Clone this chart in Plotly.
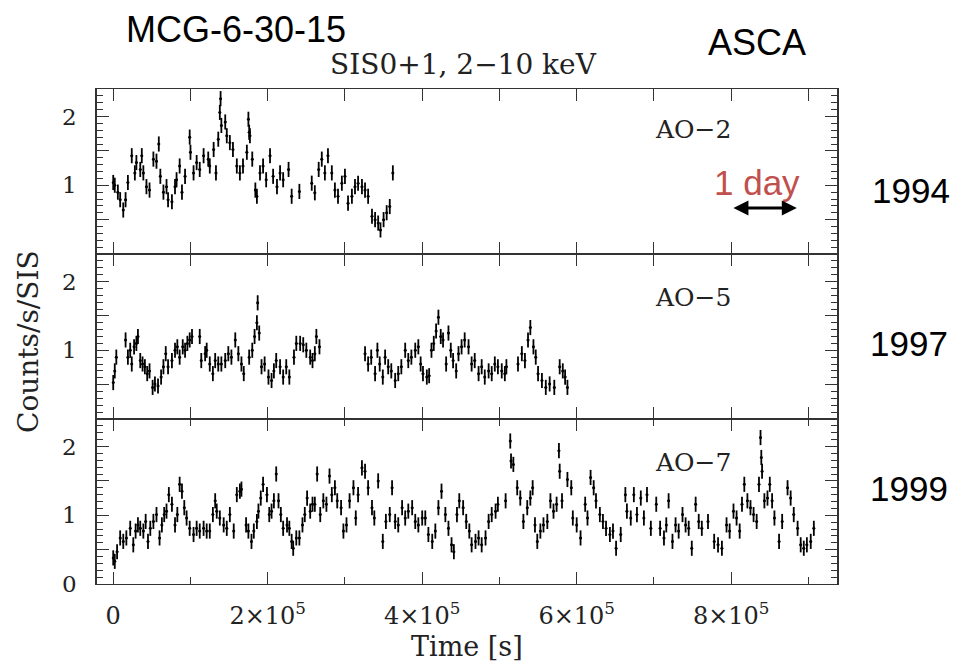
import plotly.graph_objects as go
from plotly.subplots import make_subplots

# MCG-6-30-15, ASCA SIS0+1 2-10 keV light curves; times in ks, rates in counts/s/SIS
t_ao2 = [0, 2, 6, 9, 13, 16, 19, 24, 28, 30,
         35, 37, 39, 43, 47, 52, 56, 59, 61, 65,
         69, 71, 76, 80, 82, 86, 89, 93, 99, 100,
         104, 108, 112, 117, 123, 125, 130, 133, 136, 138,
         139, 140, 145, 147, 151, 155, 160, 164, 168, 173,
         175, 176, 177, 180, 184, 186, 190, 194, 198, 203,
         207, 212, 216, 220, 227, 231, 241, 257, 261, 266,
         270, 274, 278, 283, 287, 291, 296, 300, 304, 309,
         313, 317, 322, 326, 330, 335, 339, 343, 346, 350,
         354, 358, 362]
rate_ao2 = [1.04, 1.00, 0.90, 0.79, 0.64, 0.79, 1.04, 1.43, 1.18, 1.33,
            1.23, 1.43, 1.18, 0.98, 0.93, 1.38, 1.35, 1.60, 1.13, 0.90,
            0.98, 0.79, 0.76, 0.98, 1.08, 1.28, 0.90, 1.13, 1.70, 1.48,
            1.18, 1.33, 1.23, 1.43, 1.38, 1.28, 1.52, 1.18, 1.67, 2.06,
            2.26, 1.87, 1.92, 1.72, 1.62, 1.52, 1.28, 1.18, 1.28, 1.48,
            1.96, 1.77, 1.72, 1.38, 0.93, 0.84, 1.18, 1.28, 1.08, 1.43,
            1.13, 0.98, 1.18, 1.08, 1.23, 0.84, 0.91, 1.03, 0.89, 1.23,
            1.38, 1.18, 1.43, 1.18, 0.93, 0.84, 1.03, 1.13, 0.74, 0.84,
            0.98, 1.03, 0.98, 0.93, 0.84, 0.55, 0.50, 0.45, 0.35, 0.50,
            0.60, 0.69, 1.18]

t_ao5 = [0, 2, 4, 16, 19, 22, 24, 27, 30, 32,
         35, 38, 41, 44, 47, 51, 54, 58, 62, 65,
         68, 71, 76, 80, 83, 86, 90, 93, 96, 99,
         102, 112, 114, 119, 121, 125, 129, 132, 136, 140,
         145, 149, 153, 158, 162, 166, 169, 176, 180, 183,
         186, 187, 189, 192, 196, 201, 205, 208, 211, 216,
         220, 224, 228, 234, 237, 242, 246, 250, 255, 258,
         261, 263, 267,
         326, 330, 334, 339, 342, 345, 349, 352, 356, 360,
         365, 369, 373, 378, 382, 386, 391, 395, 398, 401,
         406, 409, 412, 415, 418, 421, 424, 427, 431, 434,
         437, 440, 444, 447, 451, 455, 460, 464, 468, 473,
         477, 481, 486, 490, 494, 498, 503, 507, 509, 524,
         529, 533, 537, 540, 544, 547, 550, 555, 560, 565,
         571, 578, 582, 585, 588]
rate_ao5 = [0.53, 0.70, 0.90, 1.15, 0.90, 1.00, 0.80, 1.05, 1.10, 1.20,
            0.85, 0.80, 0.76, 0.66, 0.70, 0.46, 0.51, 0.48, 0.61, 0.76,
            0.95, 0.76, 0.85, 1.00, 1.05, 0.90, 1.05, 1.00, 1.10, 1.15,
            1.20, 1.20, 0.85, 0.95, 1.00, 0.80, 0.66, 0.85, 0.80, 0.80,
            0.85, 0.95, 0.90, 1.15, 0.95, 0.80, 0.66, 0.90, 1.00, 1.20,
            1.40, 1.69, 1.25, 0.76, 0.80, 0.61, 0.56, 0.70, 0.85, 0.76,
            0.61, 0.76, 0.61, 0.90, 1.10, 1.10, 1.08, 1.00, 0.90, 0.85,
            0.95, 1.20, 1.05,
            0.95, 0.80, 0.90, 0.66, 1.00, 0.80, 0.61, 0.90, 0.76, 0.70,
            0.56, 0.66, 0.76, 1.00, 0.85, 0.90, 1.00, 1.05, 0.80, 0.66,
            0.61, 0.63, 1.00, 1.10, 1.28, 1.48, 1.20, 1.15, 0.80, 1.25,
            1.00, 0.85, 0.70, 0.95, 1.05, 1.15, 1.05, 0.80, 0.85, 0.66,
            0.76, 0.61, 0.70, 0.66, 0.80, 0.76, 0.70, 0.66, 0.76, 0.80,
            0.95, 0.85, 1.15, 1.33, 1.05, 0.90, 0.66, 0.56, 0.46, 0.51,
            0.46, 0.76, 0.70, 0.61, 0.46]

t_ao7 = [0, 2, 5, 9, 13, 17, 22, 26, 29, 32,
         35, 39, 42, 45, 48, 52, 56, 60, 63, 66,
         69, 72, 76, 80, 83, 86, 89, 92, 95, 99,
         104, 108, 112, 117, 121, 125, 129, 132, 134, 138,
         143, 147, 151, 156, 160, 164, 166, 172, 175, 179,
         182, 186, 188, 191, 194, 199, 202, 205, 208, 211,
         214, 217, 220, 225, 228, 231, 233, 237, 241, 245,
         248, 251, 255, 258, 261, 264, 268, 272, 276, 280,
         283, 287, 290, 295, 298, 302, 306, 311, 314, 317,
         322, 326, 330, 335, 338, 343, 349, 353, 358, 361,
         365, 369, 374, 378, 382, 387, 391, 395, 400, 404,
         408, 413, 417, 421, 425, 430, 434, 438, 441, 445,
         448, 453, 457, 461, 464, 469, 473, 477, 482, 486,
         490, 495, 498,
         508, 514, 515, 518, 523, 527, 531, 536, 540, 543,
         546, 549, 553, 557, 562, 566, 570, 574, 577, 578,
         581, 588, 593, 595, 600, 605, 611, 614, 618, 622,
         625, 630, 634, 638, 643, 647, 651, 657, 663, 665,
         670, 674, 678, 683, 687, 691, 696, 703, 708, 713,
         716, 719, 724, 728, 732, 737, 741, 745, 749, 754,
         758, 762, 770, 778, 783, 788, 794, 798, 803, 807,
         811, 814, 817, 821, 825, 829, 833, 836, 838, 839,
         840, 843, 847, 850, 853, 856, 862, 866, 873, 877,
         881, 886, 890, 894, 898, 903, 907]
rate_ao7 = [0.38, 0.33, 0.47, 0.67, 0.62, 0.67, 0.81, 0.57, 0.77, 0.86,
            0.81, 0.77, 0.91, 0.62, 0.81, 0.91, 1.01, 0.67, 0.86, 1.01,
            1.06, 1.30, 1.16, 0.86, 1.01, 1.45, 1.35, 1.11, 0.96, 0.81,
            0.72, 0.81, 0.77, 0.81, 0.77, 0.77, 1.01, 1.21, 1.06, 0.96,
            0.86, 0.81, 1.01, 0.77, 1.30, 1.35, 1.38, 0.86, 0.77, 0.62,
            0.77, 0.91, 1.06, 1.25, 1.45, 1.30, 1.01, 1.06, 1.21, 1.60,
            1.21, 1.01, 0.81, 0.86, 0.81, 0.62, 0.52, 0.67, 0.67, 0.86,
            1.01, 1.25, 1.06, 1.16, 1.16, 1.60, 1.01, 1.21, 1.16, 1.57,
            1.30, 1.40, 1.21, 1.11, 0.77, 0.86, 1.21, 1.40, 0.96, 1.30,
            1.69, 1.64, 1.40, 1.11, 0.96, 1.50, 0.62, 0.91, 1.01, 1.40,
            0.91, 0.86, 1.11, 0.96, 1.06, 1.11, 0.91, 0.86, 0.96, 0.96,
            0.72, 0.62, 0.77, 1.11, 1.35, 1.01, 0.81, 0.57, 0.47, 1.01,
            1.21, 1.11, 0.91, 0.77, 0.57, 0.62, 0.67, 0.57, 0.67, 0.91,
            1.01, 1.06, 1.16,
            1.21, 2.08, 1.79, 1.74, 1.40, 1.25, 0.91, 1.11, 1.25, 1.40,
            0.86, 0.62, 0.77, 0.86, 0.91, 1.21, 1.06, 1.16, 1.94, 1.64,
            1.21, 1.52, 1.40, 0.96, 0.86, 0.67, 1.16, 0.96, 1.55, 1.40,
            1.21, 1.01, 0.91, 0.81, 0.72, 0.77, 0.52, 0.72, 1.30, 1.06,
            0.96, 1.30, 1.01, 1.25, 0.96, 1.30, 0.81, 1.16, 0.81, 0.67,
            0.86, 1.21, 0.62, 0.86, 0.77, 1.01, 0.86, 0.81, 0.52, 1.16,
            0.91, 0.81, 0.91, 0.62, 0.57, 0.52, 0.86, 0.77, 1.06, 0.96,
            0.77, 1.16, 1.45, 1.21, 1.11, 1.01, 0.91, 1.45, 2.13, 1.84,
            1.64, 1.21, 1.25, 1.45, 1.21, 0.96, 0.62, 0.91, 1.40, 1.25,
            1.01, 0.81, 0.57, 0.52, 0.57, 0.62, 0.81]

rate_err = 0.11      # typical 1-sigma error, counts/s/SIS
bin_half = 1.5       # half bin width, ks

panels = [("AO\u22122", "1994", t_ao2, rate_ao2),
          ("AO\u22125", "1997", t_ao5, rate_ao5),
          ("AO\u22127", "1999", t_ao7, rate_ao7)]

for _, _, t, r in panels:
    assert len(t) == len(r)

SERIF = "DejaVu Serif"
SANS = "Liberation Sans"
INK = "#222222"
AXIS = "#333333"

fig = make_subplots(rows=3, cols=1, shared_xaxes=True, vertical_spacing=0)

for i, (name, year, t, r) in enumerate(panels, start=1):
    fig.add_trace(go.Scatter(
        x=[v * 1000 for v in t], y=r, mode="markers",
        marker=dict(size=3, color="black"),
        error_y=dict(type="constant", value=rate_err, thickness=1.8, width=0, color="black"),
        error_x=dict(type="constant", value=bin_half * 1000, thickness=1, width=0, color="black"),
        showlegend=False, hoverinfo="skip"), row=i, col=1)

    last = i == 3
    fig.update_xaxes(
        row=i, col=1, range=[-21000, 937000],
        showline=True, linecolor=AXIS, linewidth=1, mirror="ticks",
        ticks="inside", tickcolor=AXIS, tickwidth=1,
        ticklen=12, dtick=200000 if last else 100000, tick0=0,
        minor=dict(dtick=100000, ticklen=7, tickcolor=AXIS, ticks="inside") if last else None,
        showgrid=False, zeroline=False,
        showticklabels=last, ticklabelstandoff=10,
        tickvals=[0, 2e5, 4e5, 6e5, 8e5] if last else None,
        ticktext=["0", "2\u00d710<sup>5</sup>", "4\u00d710<sup>5</sup>",
                  "6\u00d710<sup>5</sup>", "8\u00d710<sup>5</sup>"] if last else None,
        tickfont=dict(family=SERIF, size=24, color=INK),
    )
    fig.update_yaxes(
        row=i, col=1, range=[0, 2.4],
        showline=True, linecolor=AXIS, linewidth=1.5, mirror="ticks",
        ticks="inside", tickcolor=AXIS, tickwidth=1, ticklen=12,
        tickvals=[0, 0.5, 1, 1.5, 2],
        ticktext=["0" if last else "", "", "1", "", "2"],
        minor=dict(dtick=0.1, ticklen=6, tickcolor=AXIS, ticks="inside"),
        showgrid=False, zeroline=False, ticklabelstandoff=14,
        tickfont=dict(family=SERIF, size=23, color=INK),
    )


# frame sits at page x 97..837, y 89..584 (page has an 8 px body margin)
def paper_x(px):
    return (px - 97) / 740


def paper_y(py):
    return (584 - py) / 495


notes = [
    ("MCG-6-30-15", 236, 30, SANS, 36, "black", 0),
    ("ASCA", 757, 42, SANS, 36, "black", 0),
    ("SIS0+1, 2\u221210 keV", 463, 65, SERIF, 28, INK, 0),
    ("AO\u22122", 693, 130, SERIF, 25, INK, 0),
    ("AO\u22125", 693, 297, SERIF, 25, INK, 0),
    ("AO\u22127", 693, 462, SERIF, 25, INK, 0),
    ("1 day", 757, 182, SANS, 35, "#c0504d", 0),
    ("1994", 911, 190, SANS, 35, "black", 0),
    ("1997", 909, 343, SANS, 35, "black", 0),
    ("1999", 909, 488, SANS, 35, "black", 0),
    ("Time [s]", 467, 646, SERIF, 27, INK, 0),
    ("Counts/s/SIS", 28, 342, SERIF, 28, INK, -90),
]
for text, px, py, fam, size, color, angle in notes:
    fig.add_annotation(text=text, x=paper_x(px), y=paper_y(py), xref="paper", yref="paper",
                       showarrow=False, xanchor="center", yanchor="middle", textangle=angle,
                       font=dict(family=fam, size=size, color=color))

# one-day scale bar
fig.add_annotation(x=885000, y=0.67, ax=801000, ay=0.67, xref="x", yref="y",
                   axref="x", ayref="y", text="", showarrow=True, arrowhead=2,
                   arrowside="end+start", arrowwidth=3, arrowsize=1, arrowcolor="black")

fig.update_layout(
    width=961, height=671,
    margin=dict(l=89, r=132, t=81, b=95),
    paper_bgcolor="white", plot_bgcolor="white",
    font=dict(family=SERIF, color="black"),
)

fig.write_html("out.html")
